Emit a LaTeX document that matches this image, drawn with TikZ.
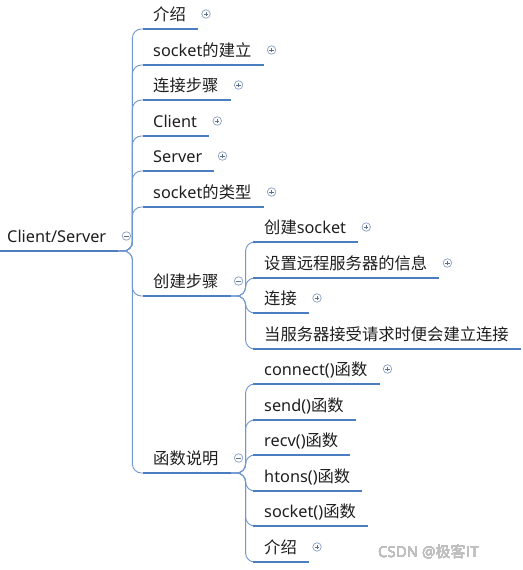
\documentclass[tikz,border=0pt]{standalone}
\usepackage{fontspec}
\setmainfont{Noto Sans}
\newfontfamily\cjk{Noto Sans CJK SC}
\usetikzlibrary{calc}
\definecolor{ulc}{RGB}{74,126,192}
\definecolor{cnc}{RGB}{112,152,208}
\definecolor{knob}{RGB}{135,158,196}
\tikzset{
  topic/.style={anchor=base west, inner sep=0pt, font=\fontsize{16.3}{17}\selectfont, text=black!88},
  uline/.style={draw=ulc, line width=2.5pt},
  conn/.style={draw=cnc, line width=0.9pt, rounded corners=9pt},
  knobc/.style={circle, draw=knob, fill=white, line width=0.7pt, minimum size=8.5pt, inner sep=0pt},
  plusknob/.style={knobc, path picture={\draw[knob!70!black,line width=0.6pt]
     ($(path picture bounding box.center)+(-2.2pt,0)$) -- ++(4.4pt,0)
     ($(path picture bounding box.center)+(0,-2.2pt)$) -- ++(0,4.4pt);}},
  minusknob/.style={knobc, path picture={\draw[knob!70!black,line width=0.6pt]
     ($(path picture bounding box.center)+(-2.2pt,0)$) -- ++(4.4pt,0);}},
  wmark/.style={anchor=base west, inner sep=0pt, font=\fontsize{15}{16}\selectfont, text=black!25},
}
% name, text x, underline y, text, underline start x
\newcommand\mmtopic[5]{%
  \node[topic] (#1) at (#2,#3-9) {#4};
  \coordinate (#1s) at (#5,#3);
  \coordinate (#1e) at ($(#1.base east |- #1s)+(12,0)$);
}
\newcommand\mmplus[1]{\node[plusknob] (#1k) at ($(#1.base east)+(20,-6)$) {};}
\newcommand\mmminus[1]{\node[minusknob] (#1k) at ($(#1.base east)+(20,-6)$) {};}
\begin{document}
\begin{tikzpicture}[x=1pt,y=-1pt]
\useasboundingbox[fill=white] (0,0) rectangle (522,570);
% root
\mmtopic{root}{7}{251}{Client/Server}{0}
% level 1
\mmtopic{a1}{153}{29}{\cjk 介绍}{143}
\mmtopic{a2}{153}{65}{socket\cjk 的建立}{143}
\mmtopic{a3}{153}{100}{\cjk 连接步骤}{143}
\mmtopic{a4}{153}{136}{Client}{143}
\mmtopic{a5}{153}{171}{Server}{143}
\mmtopic{a6}{153}{207}{socket\cjk 的类型}{143}
\mmtopic{a7}{153}{296}{\cjk 创建步骤}{143}
\mmtopic{a8}{153}{473}{\cjk 函数说明}{143}
% level 2 under a7
\mmtopic{b1}{264}{242}{\cjk 创建{\rmfamily socket}}{253}
\mmtopic{b2}{264}{278}{\cjk 设置远程服务器的信息}{253}
\mmtopic{b3}{264}{313}{\cjk 连接}{253}
\mmtopic{b4}{264}{349}{\cjk 当服务器接受请求时便会建立连接}{253}
% level 2 under a8
\mmtopic{c1}{264}{384}{connect()\cjk 函数}{253}
\mmtopic{c2}{264}{420}{send()\cjk 函数}{253}
\mmtopic{c3}{264}{455}{recv()\cjk 函数}{253}
\mmtopic{c4}{264}{491}{htons()\cjk 函数}{253}
\mmtopic{c5}{264}{526}{socket()\cjk 函数}{253}
\mmtopic{c6}{264}{562}{\cjk 介绍}{253}
% connectors
\foreach \n in {a1,a2,a3,a4,a5,a6,a7,a8}
  \draw[conn] (roote) -- ++(14,0) |- (\n s);
\foreach \n in {b1,b2,b3,b4}
  \draw[conn] (a7e) -- ++(15,0) |- (\n s);
\foreach \n in {c1,c2,c3,c4,c5,c6}
  \draw[conn] (a8e) -- ++(15,0) |- (\n s);
% underlines
\foreach \n in {root,a1,a2,a3,a4,a5,a6,a7,a8,b1,b2,b3,b4,c1,c2,c3,c4,c5,c6}
  \draw[uline] (\n s) -- (\n e);
% knobs
\mmminus{root}
\mmminus{a7}
\mmminus{a8}
\foreach \n in {a1,a2,a3,a4,a5,a6,b1,b2,b3,c1,c6}
  \mmplus{\n}
% watermark
\node[wmark] (wm) at (378,557) {CSDN @\cjk 极客IT};
\end{tikzpicture}
\end{document}
